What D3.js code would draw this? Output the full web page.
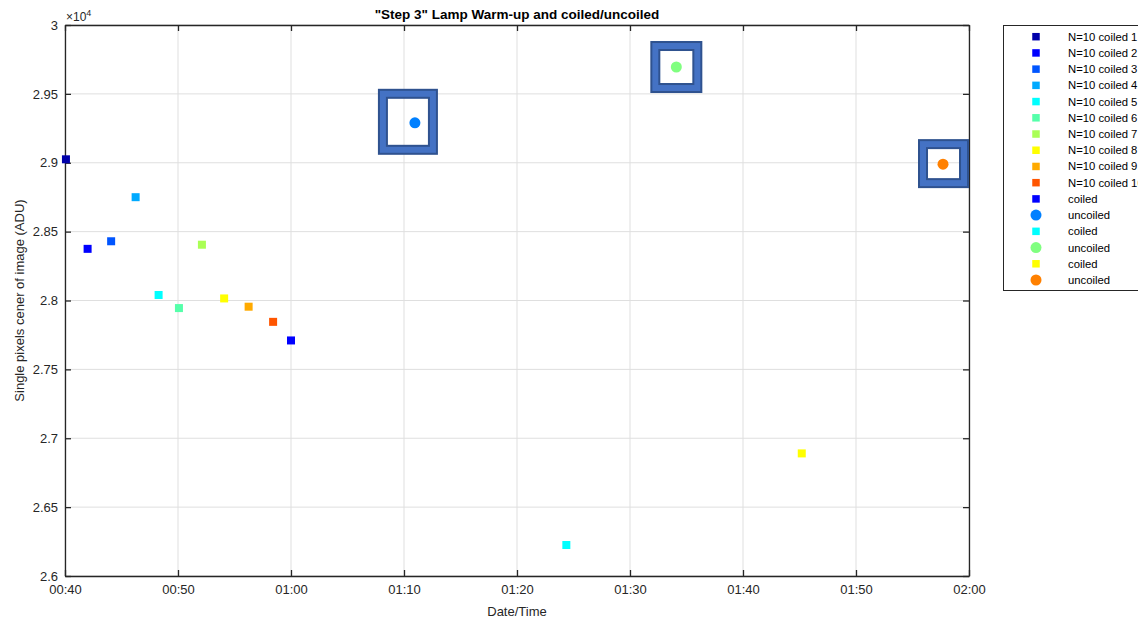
<!DOCTYPE html>
<html>
<head>
<meta charset="utf-8">
<script src="https://cdn.jsdelivr.net/npm/d3@7"></script>
<style>
  html, body { margin: 0; padding: 0; background: #fff; overflow: hidden; }
  svg { display: block; font-family: "Liberation Sans", Arial, Helvetica, sans-serif; }
</style>
</head>
<body>
<svg id="chart" width="1138" height="618"></svg>
<script>
// ---------------- data ----------------
const titleText = '"Step 3" Lamp Warm-up and coiled/uncoiled';
const xLabel = "Date/Time";
const yLabel = "Single pixels cener of image (ADU)";

// N=10 coiled series (time hh:mm:ss, value ADU)
const n10Names = ["N=10 coiled 1","N=10 coiled 2","N=10 coiled 3","N=10 coiled 4","N=10 coiled 5",
                  "N=10 coiled 6","N=10 coiled 7","N=10 coiled 8","N=10 coiled 9","N=10 coiled 10"];
const n10Times = ["00:40:05","00:42:00","00:44:05","00:46:15","00:48:17",
                  "00:50:05","00:52:07","00:54:05","00:56:15","00:58:25"];
const n10Values = [29025, 28375, 28430, 28750, 28040, 27945, 28405, 28015, 27955, 27845];
const n10Colors = ["#0000AA","#0000FF","#0055FF","#00AAFF","#00FFFF",
                   "#55FFAA","#AAFF55","#FFFF00","#FFAA00","#FF5500"];

// coiled / uncoiled pairs
const pairNames  = ["coiled","uncoiled","coiled","uncoiled","coiled","uncoiled"];
const pairTimes  = ["01:00:00","01:10:58","01:24:22","01:34:06","01:45:12","01:57:42"];
const pairValues = [27710, 29290, 26225, 29695, 26890, 28990];
const pairColors = ["#0000FF","#0080FF","#00FFFF","#80FF80","#FFFF00","#FF8000"];
const pairShapes = ["square","circle","square","circle","square","circle"];

// axis ticks
const xTickLabels = ["00:40","00:50","01:00","01:10","01:20","01:30","01:40","01:50","02:00"];
const yTickValues = [26000, 26500, 27000, 27500, 28000, 28500, 29000, 29500, 30000];

// ---------------- helpers ----------------
const toDate = s => { const [h,m,sec] = s.split(":").map(Number); return new Date(Date.UTC(2000,0,1,h,m,sec||0)); };
const yFmt = v => String(+(v/1e4).toFixed(2));

const svg = d3.select("#chart");
const L = 65, R = 969, T = 25, B = 576;

const x = d3.scaleUtc().domain([toDate("00:40"), toDate("02:00")]).range([L, R]);
const y = d3.scaleLinear().domain([26000, 30000]).range([B, T]);
const xTicks = xTickLabels.map(toDate);

const axisColor = "#262626";
const gridColor = "#dfdfdf";

// grid
const grid = svg.append("g");
grid.selectAll("line.gx").data(xTicks).enter().append("line")
  .attr("x1", d => x(d)).attr("x2", d => x(d)).attr("y1", T).attr("y2", B)
  .attr("stroke", gridColor).attr("stroke-width", 1);
grid.selectAll("line.gy").data(yTickValues).enter().append("line")
  .attr("y1", d => y(d)).attr("y2", d => y(d)).attr("x1", L).attr("x2", R)
  .attr("stroke", gridColor).attr("stroke-width", 1);

// axes (MATLAB style, ticks inward on all sides)
const tickLen = 6;
const fontSize = 13;
const gB = svg.append("g").attr("transform", `translate(0,${B})`)
  .call(d3.axisBottom(x).tickValues(xTicks).tickFormat(d3.utcFormat("%H:%M")).tickSizeInner(-tickLen).tickSizeOuter(0).tickPadding(9));
const gT = svg.append("g").attr("transform", `translate(0,${T})`)
  .call(d3.axisTop(x).tickValues(xTicks).tickFormat("").tickSizeInner(-tickLen).tickSizeOuter(0));
const gL = svg.append("g").attr("transform", `translate(${L},0)`)
  .call(d3.axisLeft(y).tickValues(yTickValues).tickFormat(yFmt).tickSizeInner(-tickLen).tickSizeOuter(0).tickPadding(7));
const gR = svg.append("g").attr("transform", `translate(${R},0)`)
  .call(d3.axisRight(y).tickValues(yTickValues).tickFormat("").tickSizeInner(-tickLen).tickSizeOuter(0));
[gB, gT, gL, gR].forEach(g => {
  g.select(".domain").attr("stroke", axisColor).attr("stroke-width", 1.3);
  g.selectAll(".tick line").attr("stroke", axisColor).attr("stroke-width", 1.3);
  g.selectAll("text").attr("fill", axisColor).attr("font-size", fontSize)
    .attr("font-family", '"Liberation Sans", Arial, sans-serif');
});
gB.selectAll("text").attr("dy", "0.71em").attr("y", 9);

// exponent label
const ex = svg.append("text").attr("x", L + 1).attr("y", 21).attr("fill", axisColor)
  .attr("font-size", 12);
ex.append("tspan").text("×10");
ex.append("tspan").text("4").attr("font-size", 9).attr("dy", -5);

// title
svg.append("text").attr("x", 517).attr("y", 19).attr("text-anchor", "middle")
  .attr("font-size", 13.5).attr("font-weight", "bold").attr("fill", "#000").text(titleText);

// axis labels
svg.append("text").attr("x", (L + R) / 2).attr("y", 615.5).attr("text-anchor", "middle")
  .attr("font-size", fontSize).attr("fill", axisColor).text(xLabel);
svg.append("text").attr("transform", `translate(24,${(T + B) / 2}) rotate(-90)`)
  .attr("text-anchor", "middle").attr("font-size", fontSize).attr("fill", axisColor).text(yLabel);

// ---------------- marks ----------------
const sq = 8, circR = 5.5;
function drawMarker(g, shape, cx, cy, color, size, r) {
  if (shape === "circle") {
    g.append("circle").attr("cx", cx).attr("cy", cy).attr("r", r).attr("fill", color);
  } else {
    g.append("rect").attr("x", cx - size / 2).attr("y", cy - size / 2)
      .attr("width", size).attr("height", size).attr("fill", color);
  }
}
const marks = svg.append("g");
n10Times.forEach((t, i) => drawMarker(marks, "square", x(toDate(t)), y(n10Values[i]), n10Colors[i], sq, circR));
pairTimes.forEach((t, i) => drawMarker(marks, pairShapes[i], x(toDate(t)), y(pairValues[i]), pairColors[i], sq, circR));

// highlight rectangles around uncoiled points (pixel offsets from the point: left, right, top, bottom)
const boxOffsets = { 1: [-37, 23, -34, 32], 3: [-26, 26, -26, 26], 5: [-25, 26, -25, 24] };
const boxes = svg.append("g");
Object.keys(boxOffsets).forEach(k => {
  const i = +k, o = boxOffsets[k];
  const px = x(toDate(pairTimes[i])), py = y(pairValues[i]);
  const x0 = px + o[0] + 5, x1 = px + o[1] - 5, y0 = py + o[2] + 5, y1 = py + o[3] - 5;
  boxes.append("rect").attr("x", x0).attr("y", y0).attr("width", x1 - x0).attr("height", y1 - y0)
    .attr("fill", "none").attr("stroke", "#2F528F").attr("stroke-width", 10);
  boxes.append("rect").attr("x", x0).attr("y", y0).attr("width", x1 - x0).attr("height", y1 - y0)
    .attr("fill", "none").attr("stroke", "#4472C4").attr("stroke-width", 6);
});

// ---------------- legend ----------------
const legNames = n10Names.concat(pairNames);
const legColors = n10Colors.concat(pairColors);
const legShapes = n10Names.map(() => "square").concat(pairShapes);
const lg = svg.append("g");
lg.append("rect").attr("x", 1003.5).attr("y", 25.5).attr("width", 150).attr("height", 265)
  .attr("fill", "#fff").attr("stroke", axisColor).attr("stroke-width", 1);
legNames.forEach((name, i) => {
  const cy = 36.7 + i * 16.22;
  drawMarker(lg, legShapes[i], 1036, cy, legColors[i], 7.5, 5.5);
  lg.append("text").attr("x", 1068).attr("y", cy + 4).attr("font-size", 11.3).attr("fill", "#000").text(name);
});
</script>
</body>
</html>
